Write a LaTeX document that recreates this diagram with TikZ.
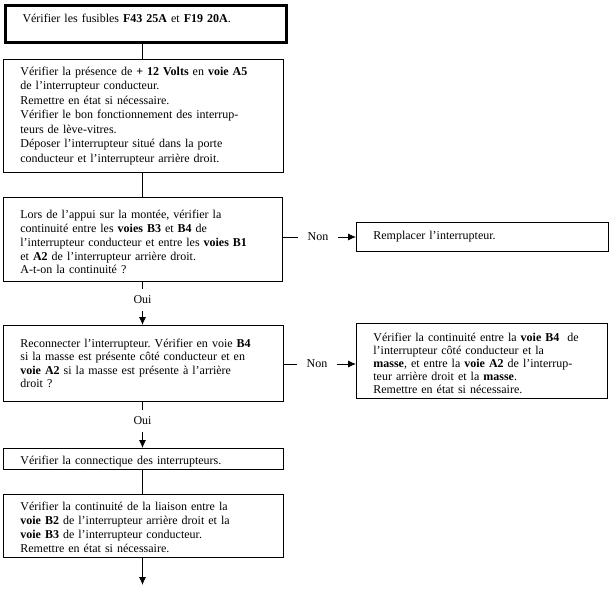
\documentclass[tikz,border=0pt]{standalone}
\usepackage{fontspec}
\setmainfont{Liberation Serif}
\usetikzlibrary{arrows.meta}
\frenchspacing
\begin{document}
\begin{tikzpicture}[x=1pt,y=-1pt,
  line width=0.8pt,
  txt/.style={font=\fontsize{12}{14.5}\selectfont},
  box/.style={txt, draw, anchor=north west, align=left, inner xsep=17pt, inner ysep=0pt},
  lbl/.style={txt, inner sep=0pt, minimum width=40pt, minimum height=22pt},
  arr/.style={-{Latex[length=8pt,width=7pt]}}
]
\useasboundingbox (0,0) rectangle (609,588);

\node[box, line width=3pt, minimum height=37pt, text width=247pt, text depth=12pt] (b1) at (4,4)
  {Vérifier les fusibles \textbf{F43 25A} et \textbf{F19 20A}.};

\node[box, minimum height=113pt, text width=246pt] (b2) at (3,59)
  {Vérifier la présence de \textbf{+ 12 Volts} en \textbf{voie A5}\\
   de l’interrupteur conducteur.\\
   Remettre en état si nécessaire.\\
   Vérifier le bon fonctionnement des interrup-\\
   teurs de lève-vitres.\\
   Déposer l’interrupteur situé dans la porte\\
   conducteur et l’interrupteur arrière droit.};

\node[box, minimum height=84pt, text width=245pt, font=\fontsize{12}{13.8}\selectfont, text height=14pt] (b3) at (3,197)
  {Lors de l’appui sur la montée, vérifier la\\
   continuité entre les \textbf{voies B3} et \textbf{B4} de\\
   l’interrupteur conducteur et entre les \textbf{voies B1}\\
   et \textbf{A2} de l’interrupteur arrière droit.\\
   A-t-on la continuité ?};

\node[box, minimum height=29pt, text width=218pt] (r1) at (356,222)
  {Remplacer l’interrupteur.};

\node[box, minimum height=76pt, text width=246pt, font=\fontsize{12}{13.5}\selectfont] (b4) at (3,325)
  {Reconnecter l’interrupteur. Vérifier en voie \textbf{B4}\\
   si la masse est présente côté conducteur et en\\
   \textbf{voie A2} si la masse est présente à l’arrière\\
   droit ?};

\node[box, minimum height=75pt, text width=217pt, font=\fontsize{12}{13}\selectfont, text height=13pt] (r2) at (356,323)
  {Vérifier la continuité entre la \textbf{voie B4}\ \ de\\
   l’interrupteur côté conducteur et la\\
   \textbf{masse}, et entre la \textbf{voie A2} de l’interrup-\\
   teur arrière droit et la \textbf{masse}.\\
   Remettre en état si nécessaire.};

\node[box, minimum height=21pt, text width=246pt, text height=14pt, text depth=2pt] (b5) at (3,448)
  {Vérifier la connectique des interrupteurs.};

\node[box, minimum height=63pt, text width=246pt, font=\fontsize{12}{14}\selectfont, text height=12pt] (b6) at (3,494)
  {Vérifier la continuité de la liaison entre la\\
   \textbf{voie B2} de l’interrupteur arrière droit et la\\
   \textbf{voie B3} de l’interrupteur conducteur.\\
   Remettre en état si nécessaire.};

% labels
\node[lbl] (oui1) at (142.5,300) {Oui};
\node[lbl] (oui2) at (142.5,421) {Oui};
\node[lbl] (non1) at (318,237) {Non};
\node[lbl] (non2) at (317,364) {Non};
\coordinate (end) at (142.5,585);

% connectors
\draw (b1.south -| oui1) -- (b2.north -| oui1);
\draw (b2.south -| oui1) -- (b3.north -| oui1);
\draw (b3.south -| oui1) -- (oui1.north);
\draw[arr] (oui1.south) -- (b4.north -| oui1);
\draw (b4.south -| oui2) -- (oui2.north);
\draw[arr] (oui2.south) -- (b5.north -| oui2);
\draw (b5.south -| oui2) -- (b6.north -| oui2);
\draw[arr] (b6.south -| end) -- (end);
\draw (non1.west -| b3.east) -- (non1.west);
\draw[arr] (non1.east) -- (non1.east -| r1.west);
\draw (non2.west -| b4.east) -- (non2.west);
\draw[arr] (non2.east) -- (non2.east -| r2.west);
\end{tikzpicture}
\end{document}
